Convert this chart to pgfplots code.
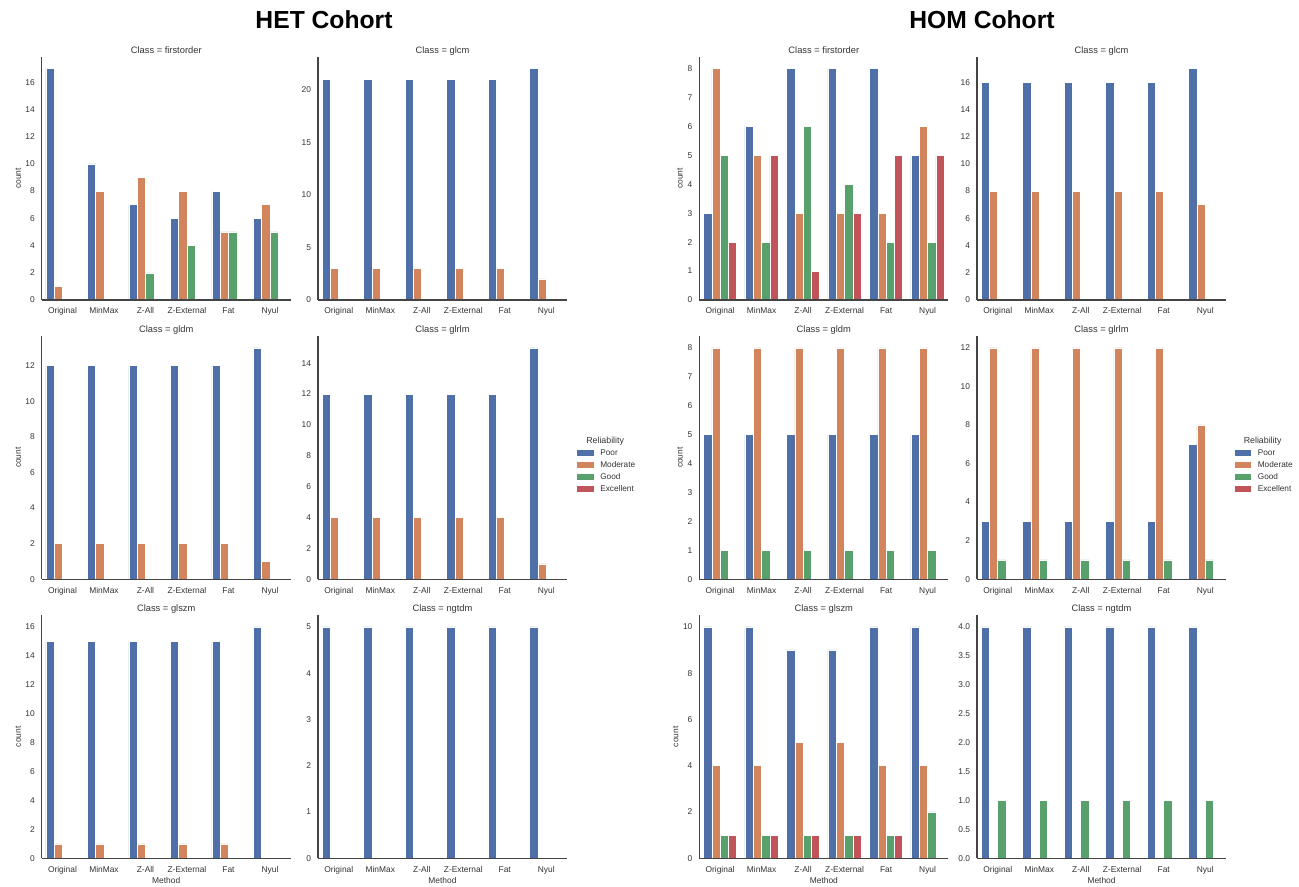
\documentclass[border=0pt]{standalone}
\usepackage{fontspec}
\setmainfont{Liberation Sans}
\usepackage{pgfplots}
\pgfplotsset{compat=1.18}
\definecolor{cPoor}{HTML}{4E6FA8}
\definecolor{cMod}{HTML}{D2845C}
\definecolor{cGood}{HTML}{58A06C}
\definecolor{cExc}{HTML}{C0545A}
\definecolor{txt}{HTML}{333333}
\definecolor{spine}{HTML}{444444}

\pgfplotsset{
  panel/.style={
    width=186.75pt, height=182.25pt, scale only axis,
    anchor=south west,
    xmin=-0.5, xmax=5.5, ymin=0,
    axis x line*=bottom, axis y line*=left,
    axis line style={draw=spine, line width=0.9pt, -},
    xtick={0,1,2,3,4,5},
    xticklabels={Original,MinMax,Z-All,Z-External,Fat,Nyul},
    major tick length=0pt, minor tick length=0pt,
    tick label style={font=\fontsize{6.3}{7}\selectfont, text=txt},
    xticklabel style={anchor=base, inner sep=0pt, yshift=-10.5pt},
    yticklabel style={anchor=east, inner sep=0pt, xshift=-5pt},
    /pgf/number format/assume math mode=true,
    every axis title/.style={at={(0.5,1)}, anchor=base, yshift=2.5pt,
      font=\fontsize{7}{8}\selectfont, text=txt},
    axis on top,
  },
  ylabA/.style={ylabel=count,
    every axis y label/.style={at={(axis description cs:-0.095,0.5)}, rotate=90,
      anchor=center, font=\fontsize{6.3}{7}\selectfont, text=txt}},
  ylabB/.style={ylabel=count,
    every axis y label/.style={at={(axis description cs:-0.078,0.5)}, rotate=90,
      anchor=center, font=\fontsize{6.3}{7}\selectfont, text=txt}},
  xlab/.style={xlabel=Method,
    every axis x label/.style={at={(axis description cs:0.5,0)}, anchor=center,
      yshift=-16.8pt, font=\fontsize{6.3}{7}\selectfont, text=txt}},
  poor/.style={ybar, bar width=0.2, bar shift=-0.3, fill=cPoor, draw=white, line width=0.4pt, forget plot},
  mod/.style={ybar, bar width=0.2, bar shift=-0.1, fill=cMod, draw=white, line width=0.4pt, forget plot},
  good/.style={ybar, bar width=0.2, bar shift=0.1, fill=cGood, draw=white, line width=0.4pt, forget plot},
  exc/.style={ybar, bar width=0.2, bar shift=0.3, fill=cExc, draw=white, line width=0.4pt, forget plot},
  rellegend/.style={
    legend style={draw=none, fill=none, at={(#1,0.586)}, anchor=north west,
      inner sep=0pt, column sep=5pt, row sep=3.1pt,
      font=\fontsize{6.2}{7}\selectfont, text=txt,
      nodes={inner sep=0pt, text height=4.6pt, text depth=1.3pt}},
    legend cell align=left,
    legend image code/.code={\fill[##1] (0pt,-2.2pt) rectangle (12.5pt,2.2pt);},
  },
}

\newcommand{\relleg}{%
  \addlegendimage{empty legend}
  \addlegendentry{\hspace{-10.5pt}\fontsize{6.6}{7}\selectfont Reliability}
  \addlegendimage{fill=cPoor, draw=none}
  \addlegendentry{Poor}
  \addlegendimage{fill=cMod, draw=none}
  \addlegendentry{Moderate}
  \addlegendimage{fill=cGood, draw=none}
  \addlegendentry{Good}
  \addlegendimage{fill=cExc, draw=none}
  \addlegendentry{Excellent}
}

\begin{document}
\begin{tikzpicture}
\path[use as bounding box] (0,0) rectangle (974.25pt,664.5pt);

\node[font=\bfseries\fontsize{18.5}{20}\selectfont, anchor=base] at (243pt,643.3pt) {HET Cohort};
\node[font=\bfseries\fontsize{18.5}{20}\selectfont, anchor=base] at (736.5pt,643.3pt) {HOM Cohort};

% ===================== HET =====================
\begin{axis}[panel, ylabA, at={(31.3pt,439.5pt)}, ymax=17.85, ytick={0,2,...,16},
  title={Class = firstorder}]
\addplot[poor] coordinates {(0,17) (1,10) (2,7) (3,6) (4,8) (5,6)};
\addplot[mod]  coordinates {(0,1) (1,8) (2,9) (3,8) (4,5) (5,7)};
\addplot[good] coordinates {(2,2) (3,4) (4,5) (5,5)};
\end{axis}
\begin{axis}[panel, at={(238.5pt,439.5pt)}, ymax=23.1, ytick={0,5,...,20},
  title={Class = glcm}]
\addplot[poor] coordinates {(0,21) (1,21) (2,21) (3,21) (4,21) (5,22)};
\addplot[mod]  coordinates {(0,3) (1,3) (2,3) (3,3) (4,3) (5,2)};
\end{axis}
\begin{axis}[panel, ylabA, at={(31.3pt,230.1pt)}, ymax=13.65, ytick={0,2,...,12},
  title={Class = gldm}]
\addplot[poor] coordinates {(0,12) (1,12) (2,12) (3,12) (4,12) (5,13)};
\addplot[mod]  coordinates {(0,2) (1,2) (2,2) (3,2) (4,2) (5,1)};
\end{axis}
\begin{axis}[panel, rellegend=1.039, at={(238.5pt,230.1pt)}, ymax=15.75, ytick={0,2,...,14},
  title={Class = glrlm}]
\relleg
\addplot[poor] coordinates {(0,12) (1,12) (2,12) (3,12) (4,12) (5,15)};
\addplot[mod]  coordinates {(0,4) (1,4) (2,4) (3,4) (4,4) (5,1)};
\end{axis}
\begin{axis}[panel, ylabA, xlab, at={(31.3pt,20.8pt)}, ymax=16.8, ytick={0,2,...,16},
  title={Class = glszm}]
\addplot[poor] coordinates {(0,15) (1,15) (2,15) (3,15) (4,15) (5,16)};
\addplot[mod]  coordinates {(0,1) (1,1) (2,1) (3,1) (4,1)};
\end{axis}
\begin{axis}[panel, xlab, at={(238.5pt,20.8pt)}, ymax=5.25, ytick={0,1,...,5},
  title={Class = ngtdm}]
\addplot[poor] coordinates {(0,5) (1,5) (2,5) (3,5) (4,5) (5,5)};
\end{axis}

% ===================== HOM =====================
\begin{axis}[panel, ylabB, at={(524.5pt,439.5pt)}, ymax=8.4, ytick={0,1,...,8},
  title={Class = firstorder}]
\addplot[poor] coordinates {(0,3) (1,6) (2,8) (3,8) (4,8) (5,5)};
\addplot[mod]  coordinates {(0,8) (1,5) (2,3) (3,3) (4,3) (5,6)};
\addplot[good] coordinates {(0,5) (1,2) (2,6) (3,4) (4,2) (5,2)};
\addplot[exc]  coordinates {(0,2) (1,5) (2,1) (3,3) (4,5) (5,5)};
\end{axis}
\begin{axis}[panel, at={(732.75pt,439.5pt)}, ymax=17.85, ytick={0,2,...,16},
  title={Class = glcm}]
\addplot[poor] coordinates {(0,16) (1,16) (2,16) (3,16) (4,16) (5,17)};
\addplot[mod]  coordinates {(0,8) (1,8) (2,8) (3,8) (4,8) (5,7)};
\end{axis}
\begin{axis}[panel, ylabB, at={(524.5pt,230.1pt)}, ymax=8.4, ytick={0,1,...,8},
  title={Class = gldm}]
\addplot[poor] coordinates {(0,5) (1,5) (2,5) (3,5) (4,5) (5,5)};
\addplot[mod]  coordinates {(0,8) (1,8) (2,8) (3,8) (4,8) (5,8)};
\addplot[good] coordinates {(0,1) (1,1) (2,1) (3,1) (4,1) (5,1)};
\end{axis}
\begin{axis}[panel, rellegend=1.033, at={(732.75pt,230.1pt)}, ymax=12.6, ytick={0,2,...,12},
  title={Class = glrlm}]
\relleg
\addplot[poor] coordinates {(0,3) (1,3) (2,3) (3,3) (4,3) (5,7)};
\addplot[mod]  coordinates {(0,12) (1,12) (2,12) (3,12) (4,12) (5,8)};
\addplot[good] coordinates {(0,1) (1,1) (2,1) (3,1) (4,1) (5,1)};
\end{axis}
\begin{axis}[panel, ylabA, xlab, at={(524.5pt,20.8pt)}, ymax=10.5, ytick={0,2,...,10},
  title={Class = glszm}]
\addplot[poor] coordinates {(0,10) (1,10) (2,9) (3,9) (4,10) (5,10)};
\addplot[mod]  coordinates {(0,4) (1,4) (2,5) (3,5) (4,4) (5,4)};
\addplot[good] coordinates {(0,1) (1,1) (2,1) (3,1) (4,1) (5,2)};
\addplot[exc]  coordinates {(0,1) (1,1) (2,1) (3,1) (4,1)};
\end{axis}
\begin{axis}[panel, xlab, at={(732.75pt,20.8pt)}, ymax=4.2, ytick={0,0.5,...,4},
  yticklabel style={/pgf/number format/.cd, fixed, fixed zerofill, precision=1},
  title={Class = ngtdm}]
\addplot[poor] coordinates {(0,4) (1,4) (2,4) (3,4) (4,4) (5,4)};
\addplot[good] coordinates {(0,1) (1,1) (2,1) (3,1) (4,1) (5,1)};
\end{axis}
\end{tikzpicture}
\end{document}
